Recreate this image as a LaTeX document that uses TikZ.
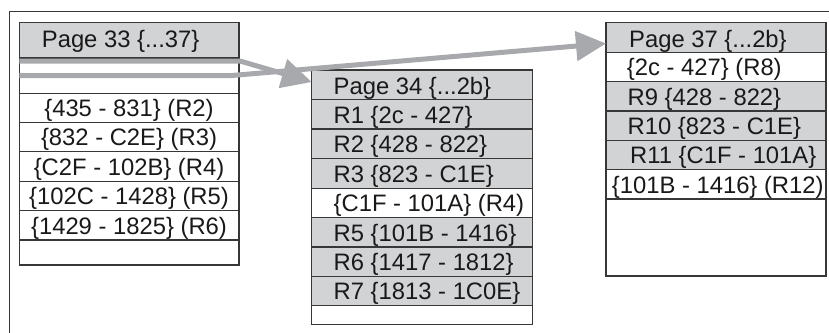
\documentclass[tikz,border=0pt]{standalone}
\usepackage{fontspec}
\setmainfont{Liberation Sans}
\usetikzlibrary{arrows.meta}
\definecolor{hdr}{RGB}{210,211,213}
\definecolor{edge}{RGB}{55,55,55}
\definecolor{arr}{RGB}{167,169,172}
\definecolor{ink}{RGB}{25,25,25}
\newcommand{\cellbox}[6]{\node[cell, fill=#6, minimum width=#4pt, minimum height=#5pt] (#1) at (#2,#3) {};}
\begin{document}
\begin{tikzpicture}[x=1pt,y=-1pt,
  cell/.style={draw=edge, line width=1.1pt, anchor=north west, inner sep=0pt, outer sep=0pt},
  txt/.style={anchor=base west, inner sep=0pt, text=ink, font=\fontsize{23.8}{28}\selectfont},
  ctxt/.style={anchor=base, inner sep=0pt, text=ink, font=\fontsize{23.8}{28}\selectfont},
  link/.style={draw=arr, line width=5pt, -{Triangle[length=30pt,width=29pt]}},
  frameline/.style={draw=edge, line width=1pt}]
\useasboundingbox (0,0) rectangle (829,332);
\draw[frameline] (9,333) -- (9,11.7) -- (830,11.7);
% left table
\cellbox{L0}{19.3}{22.3}{219.7}{35.7}{hdr}
\cellbox{L1}{19.3}{58}{219.7}{35.3}{white}
\cellbox{L2}{19.3}{93.3}{219.7}{29}{white}
\cellbox{L3}{19.3}{122.3}{219.7}{29.4}{white}
\cellbox{L4}{19.3}{151.7}{219.7}{30}{white}
\cellbox{L5}{19.3}{181.7}{219.7}{29}{white}
\cellbox{L6}{19.3}{210.7}{219.7}{29.3}{white}
\cellbox{L7}{19.3}{240}{219.7}{25}{white}
\node[txt] (tL0) at (41.7,47.5) {Page 33 \{...37\}};
\node[ctxt] (tL2) at (129,116.5) {\{435 - 831\} (R2)};
\node[ctxt] (tL3) at (129,145.7) {\{832 - C2E\} (R3)};
\node[ctxt] (tL4) at (129,175.4) {\{C2F - 102B\} (R4)};
\node[ctxt] (tL5) at (129,204.9) {\{102C - 1428\} (R5)};
\node[ctxt] (tL6) at (129,234) {\{1429 - 1825\} (R6)};
% middle table
\cellbox{M0}{311.7}{70}{220.6}{29.3}{hdr}
\cellbox{M1}{311.7}{99.3}{220.6}{29.7}{hdr}
\cellbox{M2}{311.7}{129}{220.6}{29.7}{hdr}
\cellbox{M3}{311.7}{158.7}{220.6}{29.6}{hdr}
\cellbox{M4}{311.7}{188.3}{220.6}{29.4}{white}
\cellbox{M5}{311.7}{217.7}{220.6}{29.3}{hdr}
\cellbox{M6}{311.7}{247}{220.6}{29.3}{hdr}
\cellbox{M7}{311.7}{276.3}{220.6}{29.4}{hdr}
\cellbox{M8}{311.7}{305.7}{220.6}{18.6}{white}
\node[txt] (tM0) at (333.5,94.2) {Page 34 \{...2b\}};
\node[txt] (tM1) at (333.5,123) {R1 \{2c - 427\}};
\node[txt] (tM2) at (333.5,152.6) {R2 \{428 - 822\}};
\node[txt] (tM3) at (333.5,182.3) {R3 \{823 - C1E\}};
\node[txt] (tM4) at (333.5,211.8) {\{C1F - 101A\} (R4)};
\node[txt] (tM5) at (333.5,241.1) {R5 \{101B - 1416\}};
\node[txt] (tM6) at (333.5,270.4) {R6 \{1417 - 1812\}};
\node[txt] (tM7) at (333.5,299.8) {R7 \{1813 - 1C0E\}};
% right table
\cellbox{R0}{606}{22.7}{220}{29.6}{hdr}
\cellbox{R1}{606}{52.3}{220}{29.4}{white}
\cellbox{R2}{606}{81.7}{220}{29.3}{hdr}
\cellbox{R3}{606}{111}{220}{29.3}{hdr}
\cellbox{R4}{606}{140.3}{220}{29.4}{hdr}
\cellbox{R5}{606}{169.7}{220}{29.3}{white}
\cellbox{R6}{606}{199}{220}{77}{white}
\node[txt] (tR0) at (629,47) {Page 37 \{...2b\}};
\node[txt] (tR1) at (626.7,75.8) {\{2c - 427\} (R8)};
\node[txt] (tR2) at (627.5,105.1) {R9 \{428 - 822\}};
\node[txt] (tR3) at (627.5,134.4) {R10 \{823 - C1E\}};
\node[txt] (tR4) at (630,163.8) {R11 \{C1F - 101A\}};
\node[txt] (tR5) at (611.7,193.1) {\{101B - 1416\} (R12)};
% arrows
\coordinate (b1s) at (19.3,75.5);
\coordinate (b1k) at (232,75.5);
\coordinate (t37) at (606,43.5);
\draw[link] (b1s) -- (b1k) -- (t37);
\coordinate (a1s) at (19.3,61);
\coordinate (a1k) at (240,61);
\coordinate (t34) at (311.7,82);
\draw[link] (a1s) -- (a1k) -- (t34);
\end{tikzpicture}
\end{document}
